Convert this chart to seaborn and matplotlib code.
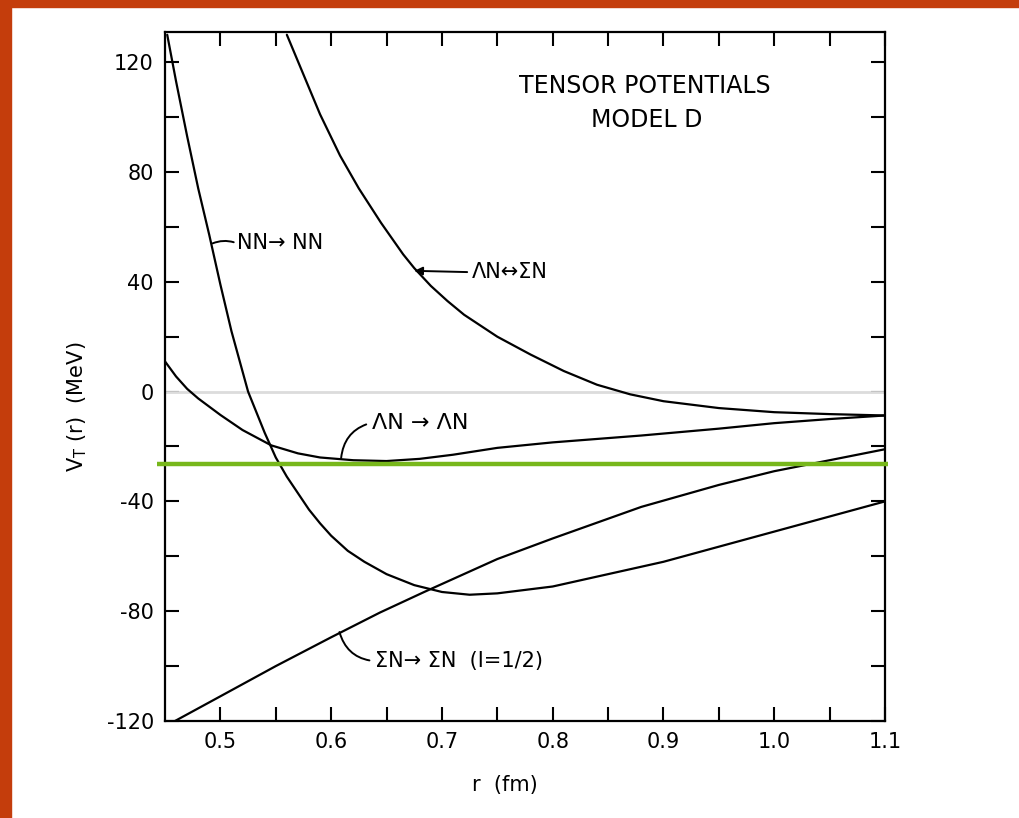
import matplotlib
matplotlib.use("Agg")
import matplotlib.pyplot as plt
import matplotlib.transforms as mtransforms
from matplotlib.patches import Rectangle
import seaborn as sns
import pandas as pd

# ---------------- data ----------------
nn_r = [0.452, 0.46, 0.47, 0.48, 0.49, 0.50, 0.51, 0.525, 0.54, 0.55, 0.56, 0.57,
        0.58, 0.59, 0.60, 0.615, 0.63, 0.65, 0.675, 0.70, 0.725, 0.75, 0.80, 0.85,
        0.90, 0.95, 1.00, 1.05, 1.10]
nn_v = [130, 113, 93, 74, 57, 39, 22, 0, -15, -24, -31, -37,
        -43, -48, -52.5, -58, -62, -66.5, -70.5, -73, -74, -73.5, -71, -66.5,
        -62, -56.5, -51, -45.5, -40]

ls_r = [0.560, 0.575, 0.59, 0.608, 0.625, 0.645, 0.665, 0.675, 0.69, 0.705, 0.72,
        0.75, 0.78, 0.81, 0.84, 0.87, 0.90, 0.95, 1.00, 1.05, 1.10]
ls_v = [130, 115.5, 101, 86, 74, 61.5, 50, 45, 38.5, 33, 28,
        20, 13.5, 7.5, 2.5, -1, -3.5, -6, -7.5, -8.2, -8.7]

ll_r = [0.45, 0.46, 0.47, 0.48, 0.49, 0.50, 0.52, 0.546, 0.57, 0.59, 0.62, 0.65,
        0.68, 0.71, 0.75, 0.80, 0.88, 0.95, 1.00, 1.05, 1.10]
ll_v = [11, 5.5, 1, -2.5, -5.5, -8.5, -14, -19.6, -22.5, -24, -25, -25.3,
        -24.5, -23, -20.5, -18.5, -16, -13.5, -11.5, -10, -8.7]

ss_r = [0.459, 0.50, 0.55, 0.60, 0.644, 0.684, 0.75, 0.80, 0.88, 0.95, 1.00, 1.05, 1.10]
ss_v = [-120, -111, -100, -89.5, -80.5, -73, -61, -53.5, -42, -34, -29, -25, -21]

x_ticks = [0.5, 0.6, 0.7, 0.8, 0.9, 1.0, 1.1]
x_ticklabels = ["0.5", "0.6", "0.7", "0.8", "0.9", "1.0", "1.1"]
x_minor = [0.55, 0.65, 0.75, 0.85, 0.95, 1.05]
y_ticks = [-120, -80, -40, 0, 40, 80, 120]
y_ticklabels = ["-120", "-80", "-40", "0", "40", "80", "120"]
y_minor = [-100, -60, -20, 20, 60, 100]

green_level = -26.5

title_lines = ["TENSOR POTENTIALS", "MODEL D"]
lbl_nn = "NN\u2192 NN"
lbl_ls = "\u039bN\u2194\u03a3N"
lbl_ll = "\u039bN \u2192 \u039bN"
lbl_ss = "\u03a3N\u2192 \u03a3N  (I=1/2)"

# ---------------- figure ----------------
sns.set_theme(style="ticks")
plt.rcParams["font.family"] = ["DejaVu Sans"]
plt.rcParams["axes.unicode_minus"] = False
plt.rcParams["text.color"] = "black"
plt.rcParams["xtick.color"] = "black"
plt.rcParams["ytick.color"] = "black"
plt.rcParams["xtick.labelcolor"] = "black"
plt.rcParams["ytick.labelcolor"] = "black"

fig = plt.figure(figsize=(10.2, 8.18), dpi=100)
fig.patch.set_facecolor("white")

# orange frame strips (left and top)
border = "#c43d0c"
fig.add_artist(Rectangle((0, 0), 11 / 1020, 1, transform=fig.transFigure,
                         color=border, zorder=0))
fig.add_artist(Rectangle((0, 1 - 7 / 818), 1, 7 / 818, transform=fig.transFigure,
                         color=border, zorder=0))

ax = fig.add_axes([165 / 1020, 1 - 721 / 818, 720 / 1020, 689 / 818])
ax.set_facecolor("white")

frames = []
for name, r, v in [("nn", nn_r, nn_v), ("ls", ls_r, ls_v),
                   ("ll", ll_r, ll_v), ("ss", ss_r, ss_v)]:
    frames.append(pd.DataFrame({"r": r, "V": v, "curve": name}))
df = pd.concat(frames, ignore_index=True)

# faint zero line
ax.axhline(0, color="#dcdcdc", lw=2, zorder=1)

sns.lineplot(data=df, x="r", y="V", units="curve", estimator=None, sort=False,
             color="black", lw=1.6, ax=ax, legend=False, zorder=3)

ax.set_xlim(0.45, 1.1)
ax.set_ylim(-120, 131)

ax.set_xticks(x_ticks)
ax.set_xticklabels(x_ticklabels)
ax.set_xticks(x_minor, minor=True)
ax.set_yticks(y_ticks)
ax.set_yticklabels(y_ticklabels)
ax.set_yticks(y_minor, minor=True)

ax.tick_params(axis="both", which="both", direction="in", top=True, right=True,
               length=10, width=1.5, color="black")
ax.tick_params(axis="both", which="major", labelsize=15, pad=8, labelcolor="black")
for s in ax.spines.values():
    s.set_linewidth(1.6)
    s.set_color("black")

ax.set_xlabel("")
ax.set_ylabel("")
fig.text(505 / 1020, 1 - 785 / 818, "r  (fm)", ha="center", va="center",
         fontsize=15, color="black")
fig.text(77 / 1020, 1 - 407 / 818, "V$_\\mathrm{T}$ (r)  (MeV)", ha="center",
         va="center", rotation=90, fontsize=15, color="black")

# green horizontal marker line (extends slightly beyond the frame)
trans = mtransforms.blended_transform_factory(ax.transAxes, ax.transData)
ax.plot([-0.011, 1.004], [green_level, green_level], color="#77b71b", lw=3.2,
        transform=trans, clip_on=False, zorder=5, solid_capstyle="butt")

# title text inside plot
ax.text(0.883, 111.5, title_lines[0], ha="center", va="center", fontsize=17,
        color="black")
ax.text(0.885, 99, title_lines[1], ha="center", va="center", fontsize=17,
        color="black")

# curve labels with leader lines
ax.annotate(lbl_nn, xy=(0.493, 54), xytext=(0.515, 54), ha="left", va="center",
            fontsize=15, color="black",
            arrowprops=dict(arrowstyle="-", lw=1.4, color="black",
                            connectionstyle="arc3,rad=0.2",
                            relpos=(0, 0.5), shrinkA=0, shrinkB=0))
ax.annotate(lbl_ls, xy=(0.675, 44), xytext=(0.727, 43.5), ha="left", va="center",
            fontsize=15, color="black",
            arrowprops=dict(arrowstyle="-|>", lw=1.4, color="black",
                            mutation_scale=12, relpos=(0, 0.5),
                            shrinkA=1, shrinkB=0))
ax.annotate(lbl_ll, xy=(0.609, -24.2), xytext=(0.637, -11.3), ha="left", va="center",
            fontsize=16, color="black",
            arrowprops=dict(arrowstyle="-", lw=1.4, color="black",
                            connectionstyle="arc3,rad=0.35",
                            relpos=(0, 0.5), shrinkA=2, shrinkB=0))
ax.annotate(lbl_ss, xy=(0.6075, -87.6), xytext=(0.640, -98.2), ha="left", va="center",
            fontsize=15, color="black",
            arrowprops=dict(arrowstyle="-", lw=1.4, color="black",
                            connectionstyle="arc3,rad=-0.35",
                            relpos=(0, 0.5), shrinkA=2, shrinkB=0))

fig.savefig("out.png", dpi=100, facecolor="white")
